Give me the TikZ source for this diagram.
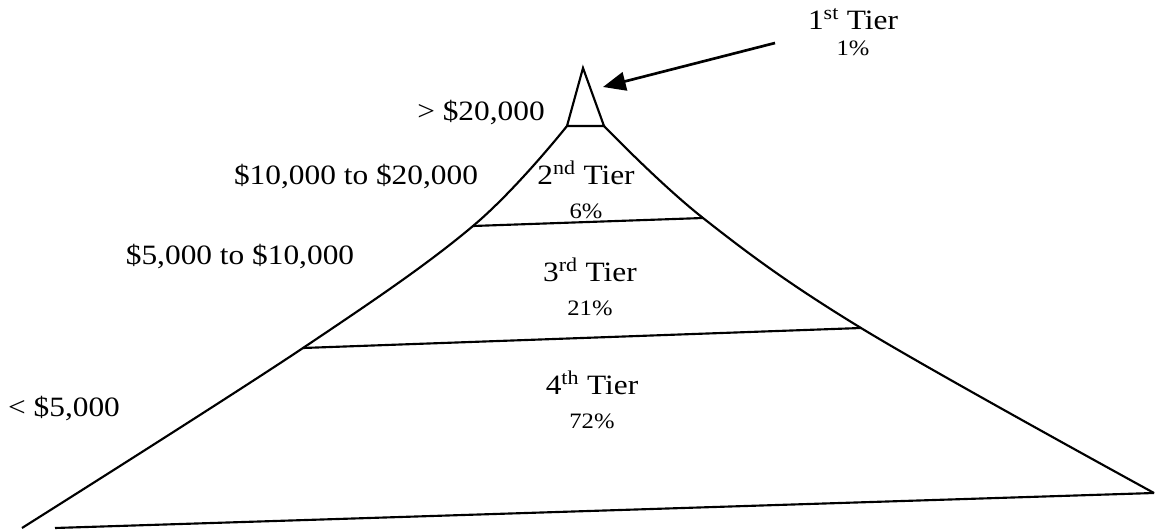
\documentclass[tikz,border=0pt]{standalone}
\usepackage{fontspec}
\setmainfont{Liberation Serif}[FakeStretch=1.12]
\usepackage{tikz}
\usetikzlibrary{positioning, arrows.meta}

\begin{document}
\begin{tikzpicture}[x=0.75pt, y=-0.75pt, line width=1.6pt,
    palier/.style={font=\fontsize{21}{24}\selectfont, inner sep=0pt, anchor=base},
    pct/.style={font=\fontsize{16.5}{18}\selectfont, inner sep=0pt}]
    \useasboundingbox (0,0) rectangle (1156,530);

    % Pyramide
    \draw (567,126) -- (583,68) -- (604,126) -- cycle;
    \draw plot[smooth, tension=0.6] coordinates {(567,126) (473,226) (303,348) (22,528)};
    \draw plot[smooth, tension=0.6] coordinates {(604,126) (703,218) (861,328) (1154,493)};
    \draw (473,226) -- (703,218);
    \draw (303,348) -- (861,328);
    \draw (55,528) -- (1154,493);

    % Paliers
    \node[palier] (t1) at (853,30) {1\textsuperscript{st} Tier};
    \node[pct, below=6pt of t1] (p1) {1\%};
    \node[palier] (t2) at (586,185) {2\textsuperscript{nd} Tier};
    \node[pct, below=12pt of t2] (p2) {6\%};
    \node[palier] (t3) at (590,282) {3\textsuperscript{rd} Tier};
    \node[pct, below=12pt of t3] (p3) {21\%};
    \node[palier] (t4) at (592,395) {4\textsuperscript{th} Tier};
    \node[pct, below=12pt of t4] (p4) {72\%};

    % Montants
    \node[palier] (m1) at (481,121) {> \$20,000};
    \node[palier] (m2) at (356,185) {\$10,000 to \$20,000};
    \node[palier] (m3) at (240,265) {\$5,000 to \$10,000};
    \node[palier] (m4) at (64,417) {< \$5,000};

    % Fleche
    \coordinate (queue) at (775,43);
    \coordinate (pointe) at (603,87);
    \draw[line width=2pt, -{Triangle[length=17pt, width=14pt]}] (queue) -- (pointe);
\end{tikzpicture}
\end{document}
